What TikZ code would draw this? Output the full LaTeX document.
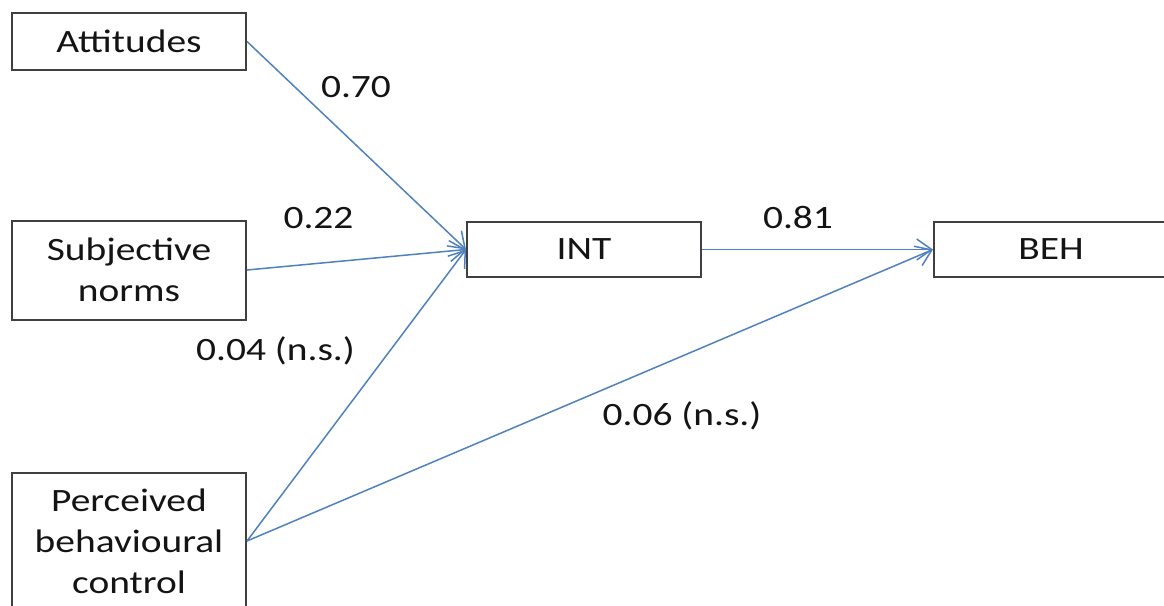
\documentclass[tikz,border=0pt]{standalone}
\usepackage{fontspec}
\setmainfont{Carlito}[FakeStretch=1.21]
\usetikzlibrary{arrows.meta}
\definecolor{pathblue}{RGB}{79,129,189}
\definecolor{boxgray}{RGB}{64,64,64}
\definecolor{inkblack}{RGB}{20,20,20}
\newcommand{\diagfont}{\fontsize{16.3}{20.5}\selectfont}
\tikzset{
  construct/.style={draw=boxgray, line width=1pt, minimum width=117pt,
    inner sep=0pt, align=center, font=\diagfont, text=inkblack},
  effect/.style={draw=pathblue, line width=0.75pt,
    -{Straight Barb[length=7.5pt,width=10.5pt]}},
  coef/.style={anchor=base, inner sep=0pt, font=\diagfont, text=inkblack}
}
\begin{document}
\begin{tikzpicture}[x=0.5pt,y=-0.5pt]
  \useasboundingbox (0,0) rectangle (1164,606);
  \clip (0,0) rectangle (1164,606);
  % constructs
  \node[construct, minimum height=28.5pt] (att) at (129,41.5) {Attitudes};
  \node[construct, minimum height=49.5pt] (sn)  at (129,270) {Subjective\\norms};
  \node[construct, minimum height=68pt]   (pbc) at (129,541) {Perceived\\behavioural\\control};
  \node[construct, minimum height=27.5pt] (int) at (584,249.5) {INT};
  \node[construct, minimum height=27.5pt] (beh) at (1051,249.5) {BEH};
  % paths
  \draw[effect] (att.east) -- (int.west);
  \draw[effect] (sn.east)  -- (int.west);
  \draw[effect] (pbc.east) -- (int.west);
  \draw[effect] (int.east) -- (beh.west);
  \draw[effect] (pbc.east) -- (beh.west);
  % path coefficients
  \node[coef] (c-att) at (356,97)  {0.70};
  \node[coef] (c-sn)  at (318.5,228) {0.22};
  \node[coef] (c-pbc) at (275.5,360) {0.04 (n.s.)};
  \node[coef] (c-int) at (798,228) {0.81};
  \node[coef] (c-beh) at (682,425) {0.06 (n.s.)};
\end{tikzpicture}
\end{document}
